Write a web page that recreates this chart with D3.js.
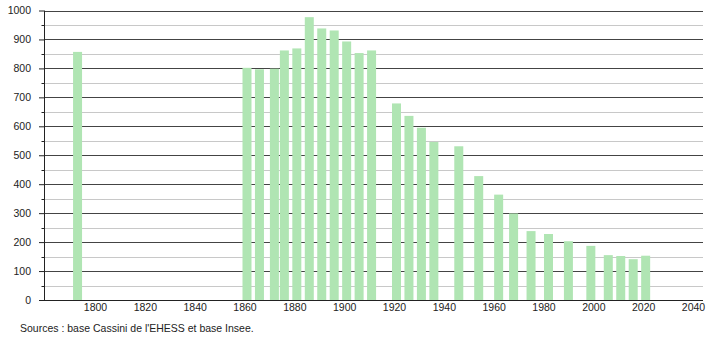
<!DOCTYPE html>
<html><head><meta charset="utf-8">
<script src="https://cdn.jsdelivr.net/npm/d3@7"></script>
<style>body{margin:0;background:#fff}svg{display:block;font-family:"Liberation Sans",Arial,sans-serif}</style>
</head><body><svg id="c" width="710" height="340"></svg>
<script>
const years = [1793,1861,1866,1872,1876,1881,1886,1891,1896,1901,1906,1911,1921,1926,1931,1936,1946,1954,1962,1968,1975,1982,1990,1999,2006,2011,2016,2021];
const population = [857,802,797,799,862,869,977,938,931,893,853,862,679,636,595,546,531,428,364,299,238,228,203,187,155,152,141,153];
const yTicks = [0,100,200,300,400,500,600,700,800,900,1000];
const xTicks = [1800,1820,1840,1860,1880,1900,1920,1940,1960,1980,2000,2020,2040];
const source = "Sources : base Cassini de l'EHESS et base Insee.";

(function(){
const svg = d3.select("#c");
const mL = 44, mR = 703, mT = 10.5, mB = 300;
const x = d3.scaleLinear().domain([1800, 2040]).range([95, 693]);
const y = d3.scaleLinear().domain([0, 1000]).range([mB, mT]);

const minor = d3.range(50, 1000, 100);
svg.append("g").selectAll("line").data(minor).join("line")
  .attr("x1", mL).attr("x2", mR).attr("y1", d => Math.round(y(d)) + 0.5).attr("y2", d => Math.round(y(d)) + 0.5)
  .attr("stroke", "#c8c8c8").attr("stroke-width", 1);
svg.append("g").selectAll("line").data(yTicks.filter(d => d > 0)).join("line")
  .attr("x1", mL).attr("x2", mR).attr("y1", d => Math.round(y(d)) + 0.5).attr("y2", d => Math.round(y(d)) + 0.5)
  .attr("stroke", "#444").attr("stroke-width", 1);

svg.append("g").selectAll("rect").data(years).join("rect")
  .attr("x", (d) => x(d) - 4.5).attr("width", 9)
  .attr("y", (d, i) => y(population[i])).attr("height", (d, i) => mB - y(population[i]))
  .attr("fill", "#b0e5b3");

const ya = svg.append("g").attr("transform", `translate(${mL},0)`)
  .call(d3.axisLeft(y).tickValues(yTicks).tickSize(5).tickPadding(8).tickFormat(d3.format("d")));
ya.select(".domain").remove();
ya.selectAll(".tick line").attr("stroke", "#222");
ya.selectAll("text").attr("font-size", "10.5px").attr("fill", "#222").attr("font-family", "Liberation Sans, Arial, sans-serif");
svg.append("g").selectAll("line").data(minor).join("line")
  .attr("x1", mL - 2.5).attr("x2", mL).attr("y1", d => Math.round(y(d)) + 0.5).attr("y2", d => Math.round(y(d)) + 0.5)
  .attr("stroke", "#222");
svg.append("line").attr("x1", mL + 0.5).attr("x2", mL + 0.5).attr("y1", mT).attr("y2", mB).attr("stroke", "#222");

const xa = svg.append("g").attr("transform", `translate(0,${mB})`)
  .call(d3.axisBottom(x).tickValues(xTicks).tickSize(0).tickPadding(4).tickFormat(d3.format("d")));
xa.select(".domain").remove();
xa.selectAll("text").attr("font-size", "10.5px").attr("fill", "#222").attr("font-family", "Liberation Sans, Arial, sans-serif");
svg.append("line").attr("x1", mL - 5).attr("x2", mR).attr("y1", mB + 0.5).attr("y2", mB + 0.5).attr("stroke", "#222");

svg.append("text").attr("x", 20).attr("y", 332).attr("font-size", "10.5px").attr("fill", "#222").text(source);
})();
</script></body></html>
